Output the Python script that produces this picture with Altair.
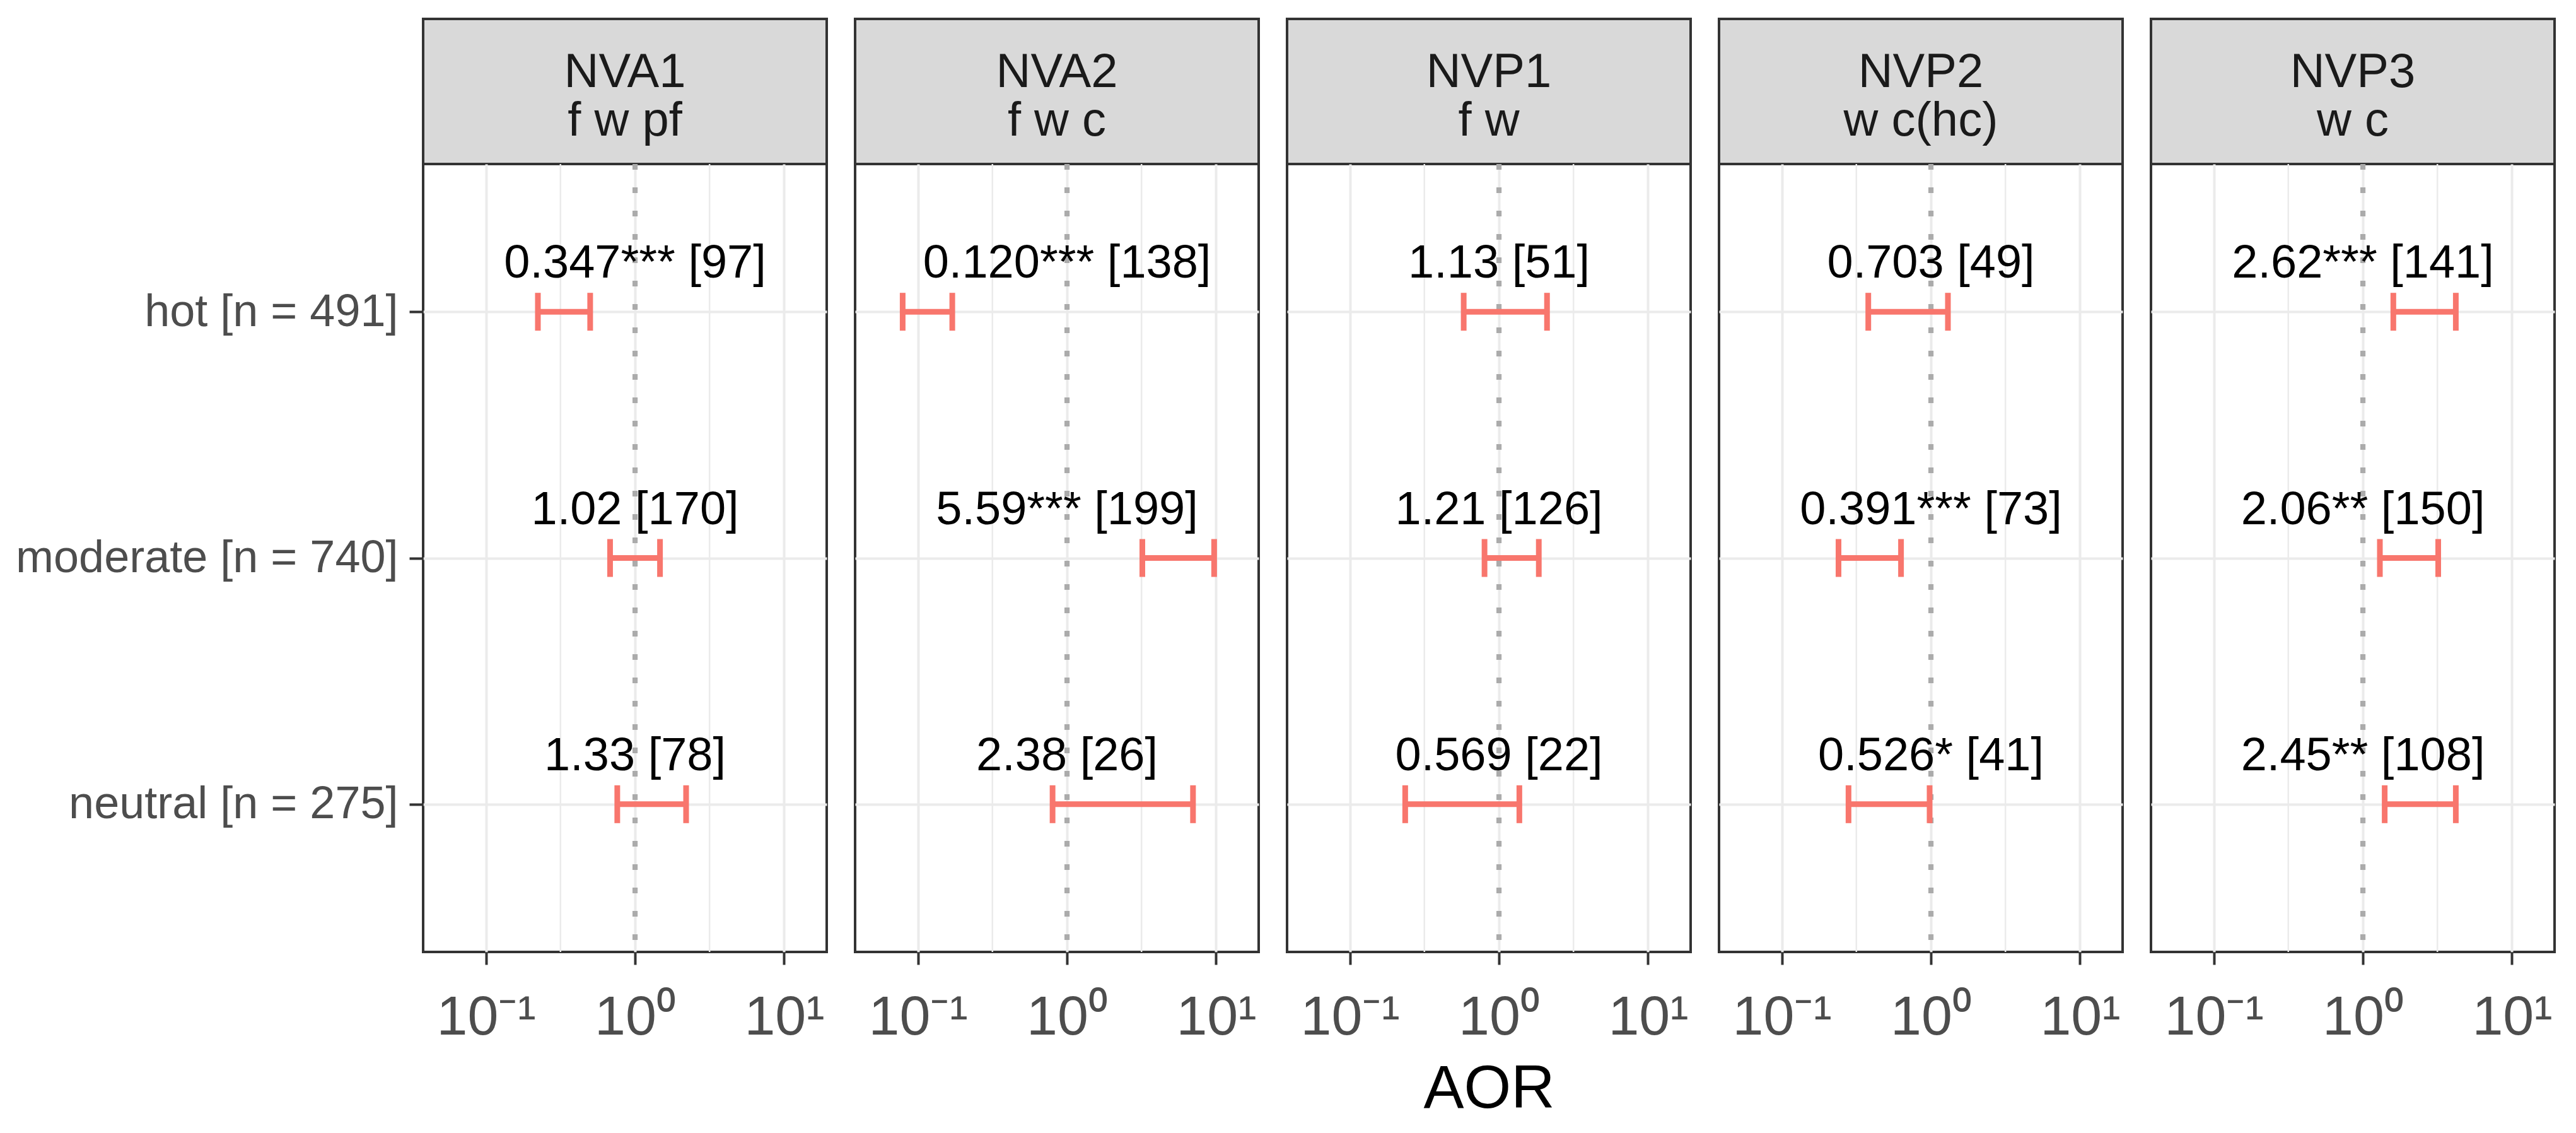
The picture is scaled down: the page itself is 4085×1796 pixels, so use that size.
import altair as alt
import pandas as pd

# ---------------- data ----------------
panels = ["NVA1", "NVA2", "NVP1", "NVP2", "NVP3"]
subtitles = ["f w pf", "f w c", "f w", "w c(hc)", "w c"]
groups = ["hot [n = 491]", "moderate [n = 740]", "neutral [n = 275]"]

# rows: hot, moderate, neutral
aor_est = [
    [0.347, 1.02, 1.33],
    [0.120, 5.59, 2.38],
    [1.13, 1.21, 0.569],
    [0.703, 0.391, 0.526],
    [2.62, 2.06, 2.45],
]
aor_lo = [
    [0.223, 0.68, 0.76],
    [0.079, 3.2, 0.80],
    [0.58, 0.80, 0.235],
    [0.38, 0.24, 0.28],
    [1.60, 1.30, 1.40],
]
aor_hi = [
    [0.50, 1.47, 2.20],
    [0.17, 9.7, 7.0],
    [2.10, 1.85, 1.37],
    [1.30, 0.63, 0.98],
    [4.20, 3.20, 4.20],
]
stars = [
    ["***", "", ""],
    ["***", "***", ""],
    ["", "", ""],
    ["", "***", "*"],
    ["***", "**", "**"],
]
counts = [
    [97, 170, 78],
    [138, 199, 26],
    [51, 126, 22],
    [49, 73, 41],
    [141, 150, 108],
]

tick_values = [0.1, 1, 10]
tick_labels = ["10⁻¹", "10⁰", "10¹"]
minor_breaks = [0.316, 3.16]
x_domain = [0.0379, 19.3]

# ---------------- style ----------------
W = 640
H_STRIP = 230
H_PANEL = 1249
RED = "#F8766D"
BORDER = "#333333"
GRID = "#EBEBEB"
FONT = "Liberation Sans"

label_expr = " : ".join(
    f"datum.value == {v} ? '{l}'" for v, l in zip(tick_values, tick_labels)
) + " : ''"

xscale = alt.Scale(type="log", domain=x_domain, nice=False, zero=False)
yscale = alt.Scale(domain=groups, type="point", padding=0.6)


def make_strip(i):
    df = pd.DataFrame({"t": [panels[i] + "\n" + subtitles[i]]})
    return (
        alt.Chart(df)
        .mark_text(
            fontSize=76,
            lineBreak="\n",
            lineHeight=77,
            baseline="alphabetic",
            align="center",
            color="#1A1A1A",
            font=FONT,
        )
        .encode(text="t:N", x=alt.value(W / 2), y=alt.value(108))
        .properties(
            width=W,
            height=H_STRIP,
            view=alt.ViewBackground(fill="#D9D9D9", stroke=BORDER, strokeWidth=4),
        )
    )


def make_panel(i):
    df = pd.DataFrame(
        {
            "group": groups,
            "est": aor_est[i],
            "lo": aor_lo[i],
            "hi": aor_hi[i],
            "label": [
                f"{e:#.3g}{s} [{c}]"
                for e, s, c in zip(aor_est[i], stars[i], counts[i])
            ],
        }
    )
    xaxis = alt.Axis(
        values=tick_values,
        labelExpr=label_expr,
        grid=True,
        gridColor=GRID,
        gridWidth=4,
        domain=False,
        ticks=True,
        tickColor=BORDER,
        tickWidth=4,
        tickSize=20,
        labelFontSize=88,
        labelColor="#4D4D4D",
        labelFont=FONT,
        labelPadding=40,
        labelFlush=False,
        title="AOR" if i == 2 else None,
        titleFontSize=96,
        titleFont=FONT,
        titleFontWeight="normal",
        titleColor="#000000",
        titlePadding=22,
    )
    if i == 0:
        yaxis = alt.Axis(
            grid=True,
            gridColor=GRID,
            gridWidth=4,
            domain=False,
            ticks=True,
            tickColor=BORDER,
            tickWidth=4,
            tickSize=22,
            labelFontSize=72,
            labelColor="#4D4D4D",
            labelFont=FONT,
            labelPadding=18,
            labelLimit=2000,
            title=None,
        )
    else:
        yaxis = alt.Axis(
            grid=True,
            gridColor=GRID,
            gridWidth=4,
            domain=False,
            ticks=False,
            labels=False,
            title=None,
        )

    minor = (
        alt.Chart(pd.DataFrame({"m": minor_breaks}))
        .mark_rule(color=GRID, strokeWidth=2.5)
        .encode(x=alt.X("m:Q", scale=xscale, axis=xaxis))
    )
    base = alt.Chart(df)
    ref = (
        base.mark_rule(color="#ABABAB", strokeWidth=8, strokeDash=[9, 28])
        .encode(x=alt.datum(1, scale=xscale, axis=xaxis))
    )
    bar = base.mark_rule(color=RED, strokeWidth=9).encode(
        x=alt.X("lo:Q", scale=xscale, axis=xaxis),
        x2="hi:Q",
        y=alt.Y("group:N", scale=yscale, axis=yaxis, sort=groups),
    )
    cap_lo = base.mark_tick(color=RED, thickness=9, size=60, opacity=1).encode(
        x=alt.X("lo:Q", scale=xscale, axis=xaxis),
        y=alt.Y("group:N", scale=yscale, axis=yaxis, sort=groups),
    )
    cap_hi = base.mark_tick(color=RED, thickness=9, size=60, opacity=1).encode(
        x=alt.X("hi:Q", scale=xscale, axis=xaxis),
        y=alt.Y("group:N", scale=yscale, axis=yaxis, sort=groups),
    )
    txt = base.mark_text(
        fontSize=74, dy=-54, baseline="alphabetic", align="center",
        color="#000000", font=FONT,
    ).encode(
        x=alt.datum(1, scale=xscale, axis=xaxis),
        y=alt.Y("group:N", scale=yscale, axis=yaxis, sort=groups),
        text="label:N",
    )
    return alt.layer(minor, ref, bar, cap_lo, cap_hi, txt).properties(
        width=W,
        height=H_PANEL,
        view=alt.ViewBackground(fill="#FFFFFF", stroke=BORDER, strokeWidth=4),
    )


strips = [make_strip(i) for i in range(5)]
plots = [make_panel(i) for i in range(5)]

chart = (
    alt.concat(*strips, *plots, columns=5, spacing={"row": 0, "column": 45}, bounds="flush")
    .properties(padding={"left": 14, "top": 20, "right": 5, "bottom": 5})
    .configure(font=FONT)
    .configure_view(stroke=BORDER)
)

chart.save("out.html", embed_options={"renderer": "svg", "actions": False})
